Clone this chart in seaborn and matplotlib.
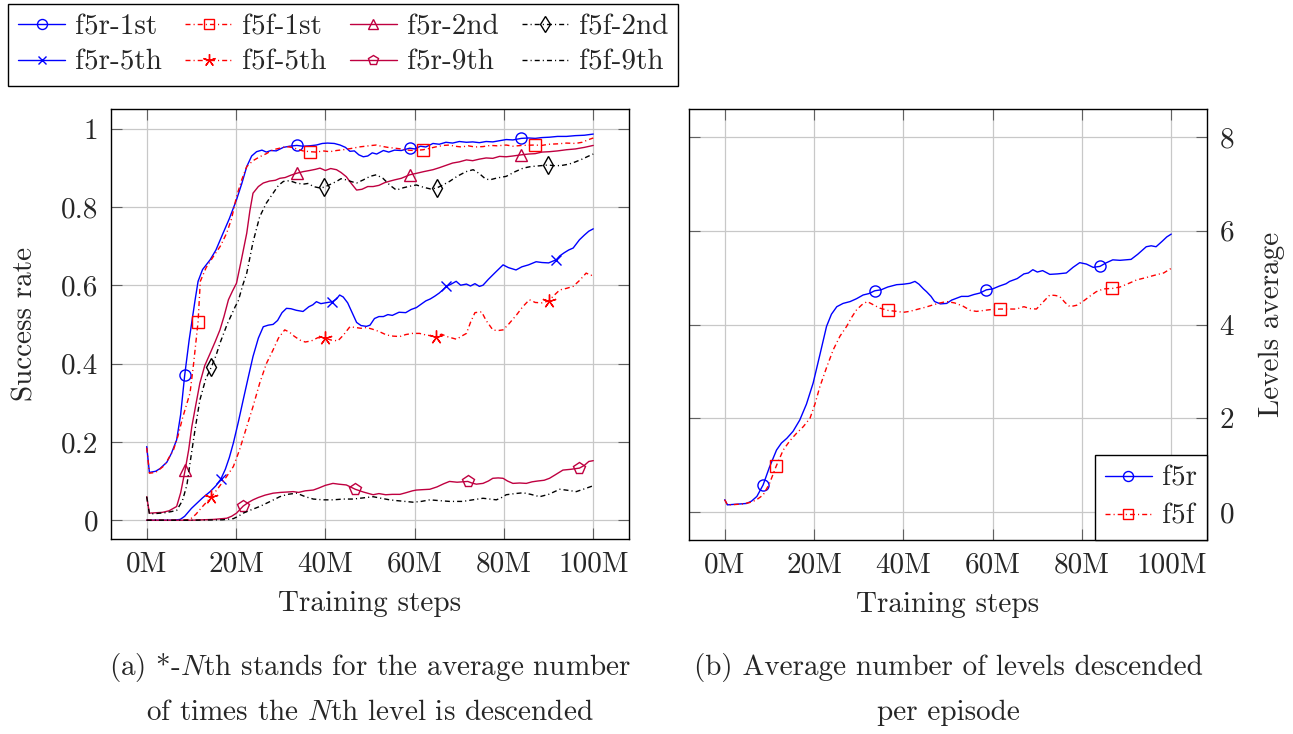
import numpy as np
import pandas as pd
import matplotlib
matplotlib.use("Agg")
import matplotlib.pyplot as plt
from matplotlib.lines import Line2D
import seaborn as sns

# ---------------------------------------------------------------------------
# Training curves, (step in millions, value)
# ---------------------------------------------------------------------------
f5r_1st = [(0, 0.188), (0.6, 0.122), (2, 0.125), (3, 0.132), (4.5, 0.148), (5.5, 0.17), (6.7, 0.205),
           (7.6, 0.27), (8.5, 0.37), (9.5, 0.46), (10.8, 0.56), (11.5, 0.61), (12.5, 0.64), (14.2, 0.665),
           (15.5, 0.69), (17.1, 0.733), (18.5, 0.77), (20.1, 0.818), (21.3, 0.86), (22.4, 0.903),
           (23.5, 0.93), (24.6, 0.941), (25.8, 0.945), (26.8, 0.94), (27.8, 0.944), (29, 0.943),
           (30.6, 0.952), (32, 0.955), (33.6, 0.957), (35, 0.955), (36.5, 0.956), (38, 0.958),
           (39.3, 0.962), (40.5, 0.963), (42, 0.962), (43.3, 0.958), (44.5, 0.952), (45.5, 0.942),
           (46.5, 0.943), (47.5, 0.933), (48.5, 0.928), (49.5, 0.93), (50.5, 0.938), (51.5, 0.935),
           (53, 0.944), (54.2, 0.94), (55.5, 0.945), (57, 0.944), (58.9, 0.95), (60, 0.948),
           (61.3, 0.955), (62.5, 0.953), (64.1, 0.962), (65.5, 0.96), (67, 0.965), (68.5, 0.963),
           (70, 0.967), (71.6, 0.965), (73, 0.966), (74.5, 0.964), (76, 0.967), (77.5, 0.966),
           (79, 0.969), (80.5, 0.972), (82, 0.971), (83.9, 0.975), (85.5, 0.976), (87, 0.975),
           (88.5, 0.977), (90.2, 0.978), (92, 0.98), (94, 0.98), (96, 0.982), (98, 0.983), (100, 0.986)]
f5r_1st_marks = [8.5, 33.6, 58.9, 83.9]

f5f_1st = [(0, 0.185), (0.6, 0.12), (2, 0.122), (4, 0.14), (5, 0.16), (6, 0.18), (7, 0.215), (8, 0.26),
           (9.7, 0.325), (10.5, 0.4), (11.5, 0.507), (12, 0.61), (13.3, 0.645), (14.9, 0.673),
           (16.5, 0.7), (17.9, 0.733), (19, 0.77), (20.1, 0.826), (21.3, 0.87), (22.4, 0.903),
           (23.8, 0.918), (25.3, 0.928), (26.8, 0.936), (28.3, 0.946), (29.8, 0.95), (31.3, 0.954),
           (32.5, 0.952), (33.6, 0.948), (35, 0.943), (36.5, 0.941), (38, 0.94), (39.5, 0.943),
           (41, 0.941), (42.5, 0.944), (44, 0.946), (46.2, 0.95), (47.5, 0.953), (49, 0.955),
           (50.5, 0.957), (51.4, 0.958), (52.5, 0.955), (54, 0.952), (55.5, 0.95), (57, 0.948),
           (58.5, 0.945), (60, 0.944), (61.9, 0.946), (63.5, 0.95), (65, 0.954), (66.5, 0.957),
           (67.8, 0.958), (69, 0.955), (70.5, 0.953), (72, 0.956), (73.5, 0.953), (75.3, 0.954),
           (77, 0.957), (78.5, 0.956), (80.5, 0.958), (82, 0.955), (84, 0.957), (86.9, 0.958),
           (88.5, 0.957), (90, 0.96), (92, 0.961), (94, 0.963), (96, 0.962), (97.5, 0.965),
           (99, 0.972), (100, 0.976)]
f5f_1st_marks = [11.5, 36.5, 61.9, 86.9]

f5r_2nd = [(0, 0.06), (0.6, 0.018), (2, 0.019), (3.5, 0.02), (5, 0.024), (6.7, 0.035), (7.6, 0.07),
           (8.6, 0.128), (9.4, 0.18), (10.1, 0.239), (11, 0.295), (11.9, 0.35), (13, 0.395),
           (14.2, 0.426), (15.3, 0.455), (16.4, 0.486), (17.3, 0.52), (18.3, 0.563), (19.2, 0.585),
           (20.1, 0.605), (21.2, 0.665), (22.4, 0.733), (23.1, 0.79), (23.8, 0.835), (25, 0.852),
           (26.1, 0.861), (27.5, 0.866), (28.8, 0.868), (29.8, 0.873), (31, 0.875), (32.3, 0.881),
           (33.6, 0.886), (35, 0.89), (36.5, 0.893), (37.8, 0.896), (38.8, 0.899), (40, 0.893),
           (41.2, 0.898), (42.5, 0.895), (43.5, 0.888), (44.7, 0.877), (45.8, 0.86), (47, 0.843),
           (48.2, 0.845), (49.5, 0.852), (50.7, 0.852), (52, 0.855), (53.3, 0.862), (54.5, 0.866),
           (55.5, 0.869), (57, 0.873), (58.9, 0.882), (60.5, 0.886), (62, 0.89), (64.1, 0.895),
           (65.5, 0.9), (67, 0.906), (68.5, 0.912), (70, 0.915), (71.6, 0.92), (73, 0.918),
           (74.5, 0.922), (76, 0.925), (77.5, 0.924), (79, 0.929), (80.5, 0.928), (82, 0.93),
           (83.9, 0.933), (85.5, 0.935), (87, 0.936), (88.5, 0.94), (90.2, 0.941), (92, 0.943),
           (94, 0.946), (96, 0.948), (98, 0.952), (100, 0.957)]
f5r_2nd_marks = [8.6, 33.6, 58.9, 83.9]

f5f_2nd = [(0, 0.06), (0.6, 0.016), (2, 0.017), (4, 0.019), (5.5, 0.022), (6.7, 0.025), (8, 0.05),
           (9, 0.09), (9.7, 0.146), (10.8, 0.23), (11.9, 0.307), (13.2, 0.36), (14.5, 0.392),
           (15.5, 0.42), (16.4, 0.452), (18, 0.5), (19.8, 0.545), (20.5, 0.56), (21.5, 0.6),
           (22.4, 0.631), (23.8, 0.71), (25.3, 0.775), (26.8, 0.81), (28.3, 0.835), (29.5, 0.855),
           (30.6, 0.865), (32, 0.867), (33.5, 0.861), (35, 0.858), (36.2, 0.86), (37.3, 0.852),
           (38.5, 0.849), (39.7, 0.85), (41, 0.857), (42.5, 0.865), (43.5, 0.872), (44.7, 0.869),
           (46, 0.864), (47, 0.861), (48.5, 0.869), (50, 0.878), (51.4, 0.882), (52.9, 0.873),
           (54.5, 0.855), (55.9, 0.843), (57.5, 0.849), (59, 0.853), (60.4, 0.856), (62, 0.85),
           (63.5, 0.846), (64.9, 0.848), (66.3, 0.856), (67.8, 0.865), (69.5, 0.878), (71.5, 0.89),
           (73.1, 0.895), (74.5, 0.885), (75.8, 0.872), (76.8, 0.869), (78.5, 0.874), (80.5, 0.878),
           (82.5, 0.89), (84.3, 0.899), (86, 0.903), (88, 0.905), (89.8, 0.907), (91.5, 0.905),
           (93, 0.906), (94.5, 0.909), (96, 0.915), (97.5, 0.922), (99, 0.93), (100, 0.935)]
f5f_2nd_marks = [14.5, 39.7, 64.9, 89.8]

f5r_5th = [(0, 0.0), (2, 0.0), (4, 0.0), (6, 0.0), (7.5, 0.002), (8.5, 0.01), (10, 0.03), (11.2, 0.043),
           (12.5, 0.057), (14.2, 0.073), (15.5, 0.088), (16.6, 0.105), (17.6, 0.13), (18.5, 0.16),
           (19.4, 0.197), (20.5, 0.25), (21.6, 0.307), (22.7, 0.363), (23.8, 0.418), (25, 0.465),
           (26.1, 0.494), (27.2, 0.498), (28.3, 0.5), (29.3, 0.51), (30.3, 0.53), (31.3, 0.541),
           (32.3, 0.54), (33.5, 0.536), (35, 0.533), (36.3, 0.545), (37.2, 0.55), (38, 0.558),
           (39, 0.553), (40, 0.555), (41.6, 0.558), (42.5, 0.565), (43.2, 0.575), (44, 0.57),
           (45, 0.555), (46, 0.53), (47, 0.505), (48, 0.497), (49.2, 0.495), (50, 0.498), (51, 0.515),
           (52, 0.52), (53, 0.52), (54, 0.525), (55, 0.523), (56.5, 0.531), (58, 0.53), (59.2, 0.538),
           (60.4, 0.543), (61.5, 0.552), (62.5, 0.56), (63.5, 0.565), (64.5, 0.572), (65.5, 0.58),
           (66.3, 0.588), (67.1, 0.597), (68.2, 0.603), (69.3, 0.61), (70.3, 0.6), (71.6, 0.603),
           (72.5, 0.598), (73.5, 0.604), (74.5, 0.597), (75.3, 0.6), (76.5, 0.615), (78, 0.632),
           (79.8, 0.652), (81, 0.645), (82.7, 0.639), (84, 0.647), (85.5, 0.652), (87.2, 0.66),
           (88.5, 0.658), (90, 0.657), (91.7, 0.665), (92.5, 0.675), (93.5, 0.683), (94.5, 0.69),
           (95.5, 0.695), (96.9, 0.716), (98, 0.728), (99, 0.738), (100, 0.744)]
f5r_5th_marks = [16.6, 41.6, 67.1, 91.7]

f5f_5th = [(0, 0.0), (5, 0.0), (8, 0.0), (9.7, 0.002), (11, 0.015), (12.5, 0.035), (14.5, 0.06),
           (16, 0.082), (17.8, 0.11), (19.4, 0.137), (20.8, 0.18), (22.4, 0.239), (23.8, 0.29),
           (25.3, 0.35), (26.8, 0.4), (28.3, 0.435), (29.5, 0.465), (30.9, 0.486), (32, 0.48),
           (33, 0.47), (34.3, 0.46), (35.5, 0.455), (36.9, 0.458), (38.3, 0.466), (39.9, 0.465),
           (41.3, 0.46), (42.8, 0.458), (44, 0.472), (45.5, 0.494), (46.8, 0.492), (48, 0.49),
           (49.2, 0.492), (50.5, 0.488), (52, 0.482), (53.7, 0.473), (55.2, 0.47), (56.7, 0.469),
           (58, 0.474), (59.5, 0.477), (61.1, 0.477), (62.5, 0.473), (64.7, 0.469), (66, 0.475),
           (67.5, 0.468), (69.4, 0.462), (70.5, 0.47), (71.6, 0.477), (72.5, 0.505), (73.5, 0.53),
           (75, 0.532), (76, 0.51), (77.5, 0.486), (78.5, 0.484), (79.8, 0.486), (81, 0.5),
           (82.8, 0.524), (84.2, 0.545), (85.7, 0.563), (87, 0.556), (88.5, 0.555), (90, 0.56),
           (91.3, 0.575), (92.5, 0.588), (94, 0.592), (95.5, 0.597), (97, 0.613), (98.4, 0.631),
           (99.5, 0.625), (100, 0.63)]
f5f_5th_marks = [14.5, 39.9, 64.7, 90]

f5r_9th = [(0, 0.0), (10, 0.0), (15, 0.002), (17.9, 0.005), (19, 0.01), (20.1, 0.018), (21.6, 0.036),
           (22.7, 0.045), (23.8, 0.052), (25, 0.058), (26.5, 0.064), (28.3, 0.069), (30, 0.071),
           (31.5, 0.072), (32.8, 0.073), (34, 0.071), (35.5, 0.075), (37.3, 0.077), (38.5, 0.082),
           (40, 0.089), (41.7, 0.094), (43, 0.092), (44.7, 0.09), (46.7, 0.079), (48.5, 0.072),
           (50.7, 0.065), (52, 0.068), (53.5, 0.065), (55, 0.066), (56.7, 0.066), (58, 0.07),
           (59.5, 0.075), (60.4, 0.077), (61.8, 0.078), (63.4, 0.079), (65, 0.085), (66.5, 0.093),
           (67.8, 0.099), (69.5, 0.097), (71.9, 0.099), (72.8, 0.095), (73.8, 0.092), (75.3, 0.094),
           (76.5, 0.1), (77.5, 0.107), (78.7, 0.108), (79.8, 0.107), (80.8, 0.1), (82, 0.094),
           (83.5, 0.095), (85, 0.094), (86.3, 0.098), (87.5, 0.1), (89, 0.102), (90.2, 0.107),
           (91.5, 0.116), (93.2, 0.128), (95, 0.13), (96.9, 0.133), (98, 0.14), (99, 0.15), (100, 0.152)]
f5r_9th_marks = [21.6, 46.7, 71.9, 96.9]

f5f_9th = [(0, 0.0), (10, 0.0), (17, 0.001), (19.4, 0.004), (20.5, 0.01), (21.6, 0.018), (23.5, 0.027),
           (25.3, 0.035), (27.5, 0.047), (29.8, 0.06), (31.5, 0.066), (33.6, 0.069), (35.5, 0.06),
           (37.3, 0.054), (39.5, 0.052), (41.7, 0.052), (44, 0.054), (46.2, 0.054), (48.5, 0.057),
           (50.7, 0.06), (52.5, 0.056), (54.4, 0.052), (56, 0.05), (57.8, 0.048), (59.6, 0.046),
           (61.5, 0.048), (63.4, 0.052), (65.5, 0.05), (67.8, 0.048), (70.8, 0.048), (73, 0.052),
           (75.3, 0.056), (76.8, 0.054), (78.3, 0.052), (79.5, 0.058), (80.5, 0.065), (82.5, 0.068),
           (84.3, 0.07), (86, 0.066), (88, 0.06), (90, 0.066), (92.5, 0.079), (94.5, 0.076),
           (96.2, 0.073), (98, 0.08), (100, 0.088)]
f5f_9th_marks = []

f5r_levels = [(0, 0.26), (0.6, 0.15), (2, 0.16), (3.5, 0.17), (4.9, 0.18), (6, 0.23), (7.2, 0.33),
              (8.6, 0.576), (10, 0.95), (11.6, 1.32), (12.7, 1.47), (13.9, 1.57), (15.3, 1.72),
              (16.8, 1.96), (18.3, 2.3), (19.8, 2.75), (21.3, 3.35), (22.8, 3.96), (23.9, 4.22),
              (25.1, 4.38), (26.5, 4.45), (28.1, 4.49), (29.5, 4.55), (31, 4.63), (32.3, 4.66),
              (33.6, 4.72), (35, 4.74), (36.5, 4.8), (38.5, 4.85), (40, 4.86), (41.5, 4.88),
              (42.6, 4.92), (43.5, 4.86), (44.5, 4.76), (45.2, 4.70), (46.2, 4.6), (47, 4.49),
              (48.3, 4.44), (49.7, 4.45), (50.8, 4.52), (51.9, 4.56), (53, 4.6), (54.5, 4.6),
              (55.8, 4.64), (57.1, 4.67), (58.6, 4.74), (60, 4.76), (61.5, 4.82), (63, 4.87),
              (63.8, 4.92), (65.5, 4.98), (67, 5.08), (68, 5.1), (69, 5.17), (70, 5.12), (71.2, 5.15),
              (72.8, 5.07), (74.5, 5.08), (76.5, 5.1), (78, 5.22), (79.5, 5.32), (81, 5.29),
              (82.5, 5.22), (84, 5.24), (85.5, 5.32), (86.9, 5.38), (88.5, 5.37), (91, 5.39),
              (92.5, 5.5), (94.4, 5.66), (95.5, 5.68), (96.6, 5.66), (98, 5.78), (99, 5.87), (100, 5.93)]
f5r_levels_marks = [8.6, 33.6, 58.6, 84]

f5f_levels = [(0, 0.26), (0.6, 0.15), (2, 0.155), (4, 0.17), (5.6, 0.2), (7, 0.25), (8.6, 0.36),
              (10, 0.6), (11.5, 0.97), (13.1, 1.32), (14.6, 1.52), (16.1, 1.68), (17.6, 1.82),
              (19.1, 2.0), (20.2, 2.3), (21.3, 2.67), (22.8, 3.08), (24.3, 3.46), (25.8, 3.75),
              (27.3, 3.96), (28.4, 4.15), (29.5, 4.31), (30.7, 4.42), (31.9, 4.49), (33.3, 4.42),
              (34.7, 4.35), (36.6, 4.30), (38.5, 4.28), (40, 4.26), (41.4, 4.28), (43, 4.32),
              (45, 4.37), (46.7, 4.42), (48.2, 4.46), (49.7, 4.49), (51.5, 4.46), (53.4, 4.39),
              (55, 4.3), (56.4, 4.28), (58, 4.3), (59.7, 4.32), (61.6, 4.33), (63.5, 4.33),
              (65.3, 4.33), (67, 4.38), (68.3, 4.34), (69.8, 4.33), (71, 4.45), (72.8, 4.63),
              (74, 4.62), (75, 4.6), (76.2, 4.47), (77.3, 4.38), (78.8, 4.41), (80.2, 4.49),
              (81.7, 4.6), (83.2, 4.70), (84.8, 4.76), (86.8, 4.77), (88.5, 4.8), (90.3, 4.87),
              (92.2, 4.95), (94.3, 5.0), (96.6, 5.06), (98.3, 5.1), (100, 5.2)]
f5f_levels_marks = [11.5, 36.6, 61.6, 86.8]

x_ticks = [0, 20, 40, 60, 80, 100]
x_tick_labels = ["0M", "20M", "40M", "60M", "80M", "100M"]
rate_ticks = [0, 0.2, 0.4, 0.6, 0.8, 1.0]
rate_tick_labels = ["0", "0.2", "0.4", "0.6", "0.8", "1"]
level_ticks = [0, 2, 4, 6, 8]
level_tick_labels = ["0", "2", "4", "6", "8"]

# ---------------------------------------------------------------------------
# Styling
# ---------------------------------------------------------------------------
sns.set_style("white")
plt.rcParams.update({
    "font.family": ["cmr10", "DejaVu Serif"],
    "mathtext.fontset": "cm",
    "axes.unicode_minus": False,
    "axes.formatter.use_mathtext": True,
})

FS = 21
BLUE, RED, PURPLE, BLACK = "#0000ff", "#ff0000", "#bf0040", "#000000"
SOLID = "-"
DASHDOT = (0, (3.6, 2.2, 0.8, 2.2))
STAR = (5, 2, 0)
MARKER_SIZE = {"x": 6.5, STAR: 10, "^": 8, "d": 9, "p": 8.5}

fig = plt.figure(figsize=(12.93, 7.34), dpi=100)
W, H = 1293, 734
ax_a = fig.add_axes([111 / W, 1 - 539 / H, 518 / W, 430 / H])
ax_b = fig.add_axes([689 / W, 1 - 540 / H, 518 / W, 431 / H])


def draw(ax, pts, marks, color, ls, marker, label):
    df = pd.DataFrame(pts, columns=["step", "value"])
    steps = df["step"].to_numpy()
    idx = [int(np.argmin(np.abs(steps - m))) for m in marks]
    ms = MARKER_SIZE.get(marker, 8) if marker is not None else 8
    kw = dict(linestyle=ls, linewidth=1.0)
    if marks:
        kw.update(marker=marker, markevery=idx, markersize=ms,
                  markerfacecolor="none", markeredgecolor=color, markeredgewidth=1.0)
    sns.lineplot(data=df, x="step", y="value", ax=ax, color=color, estimator=None,
                 sort=False, errorbar=None, legend=False, **kw)
    return Line2D([], [], color=color, linestyle=ls, linewidth=1.0,
                  marker=marker, markersize=ms * 0.9, markerfacecolor="none",
                  markeredgecolor=color, markeredgewidth=1.0, label=label)


series_a = [
    (f5r_1st, f5r_1st_marks, BLUE, SOLID, "o", "f5r-1st"),
    (f5f_1st, f5f_1st_marks, RED, DASHDOT, "s", "f5f-1st"),
    (f5r_2nd, f5r_2nd_marks, PURPLE, SOLID, "^", "f5r-2nd"),
    (f5f_2nd, f5f_2nd_marks, BLACK, DASHDOT, "d", "f5f-2nd"),
    (f5r_5th, f5r_5th_marks, BLUE, SOLID, "x", "f5r-5th"),
    (f5f_5th, f5f_5th_marks, RED, DASHDOT, STAR, "f5f-5th"),
    (f5r_9th, f5r_9th_marks, PURPLE, SOLID, "p", "f5r-9th"),
    (f5f_9th, f5f_9th_marks, BLACK, DASHDOT, None, "f5f-9th"),
]
handles_a = [draw(ax_a, *s) for s in series_a]

h_r = draw(ax_b, f5r_levels, f5r_levels_marks, BLUE, SOLID, "o", "f5r")
h_f = draw(ax_b, f5f_levels, f5f_levels_marks, RED, DASHDOT, "s", "f5f")

for ax in (ax_a, ax_b):
    ax.set_xlim(-8, 108)
    ax.set_xticks(x_ticks)
    ax.set_xticklabels(x_tick_labels)
    ax.grid(True, color="#c8c8c8", linewidth=0.9)
    ax.set_axisbelow(True)
    ax.tick_params(direction="in", top=True, right=True, left=True, bottom=True,
                   length=8, width=0.8, color="#606060", labelsize=FS, pad=9)
    for sp in ax.spines.values():
        sp.set_color("black")
        sp.set_linewidth(1.0)
    ax.set_xlabel("Training steps", fontsize=FS, labelpad=9)

ax_a.set_ylim(-0.048, 1.05)
ax_a.set_yticks(rate_ticks)
ax_a.set_yticklabels(rate_tick_labels)
ax_a.set_ylabel("Success rate", fontsize=FS, labelpad=16)

ax_b.set_ylim(-0.6, 8.6)
ax_b.set_yticks(level_ticks)
ax_b.set_yticklabels(level_tick_labels)
ax_b.yaxis.set_label_position("right")
ax_b.tick_params(axis="y", labelleft=False, labelright=True)
ax_b.set_ylabel("Levels average", fontsize=FS, labelpad=18)

# legend above panel (a): four columns, two rows
order = [0, 4, 1, 5, 2, 6, 3, 7]
leg_a = fig.legend([handles_a[i] for i in order], [handles_a[i].get_label() for i in order],
                   ncol=4, loc="upper left", bbox_to_anchor=(8 / W, 1 - 4 / H),
                   frameon=True, fancybox=False, edgecolor="black", framealpha=1,
                   fontsize=FS, handlelength=1.6, handletextpad=0.35, columnspacing=0.8,
                   borderpad=0.35, labelspacing=0.3, borderaxespad=0)
leg_a.get_frame().set_linewidth(1.0)

leg_b = ax_b.legend([h_r, h_f], ["f5r", "f5f"], loc="lower right", frameon=True, fancybox=False,
                    edgecolor="black", framealpha=1, fontsize=FS, handlelength=1.6,
                    handletextpad=0.35, borderpad=0.35, labelspacing=0.4, borderaxespad=0)
leg_b.get_frame().set_linewidth(1.0)

# sub-figure captions
fig.text(370 / W, 1 - 668 / H, "(a) *-$N$th stands for the average number",
         ha="center", va="center", fontsize=FS)
fig.text(370 / W, 1 - 713 / H, "of times the $N$th level is descended",
         ha="center", va="center", fontsize=FS)
fig.text(948 / W, 1 - 668 / H, "(b) Average number of levels descended",
         ha="center", va="center", fontsize=FS)
fig.text(948 / W, 1 - 713 / H, "per episode",
         ha="center", va="center", fontsize=FS)

fig.savefig("out.png", dpi=100)
